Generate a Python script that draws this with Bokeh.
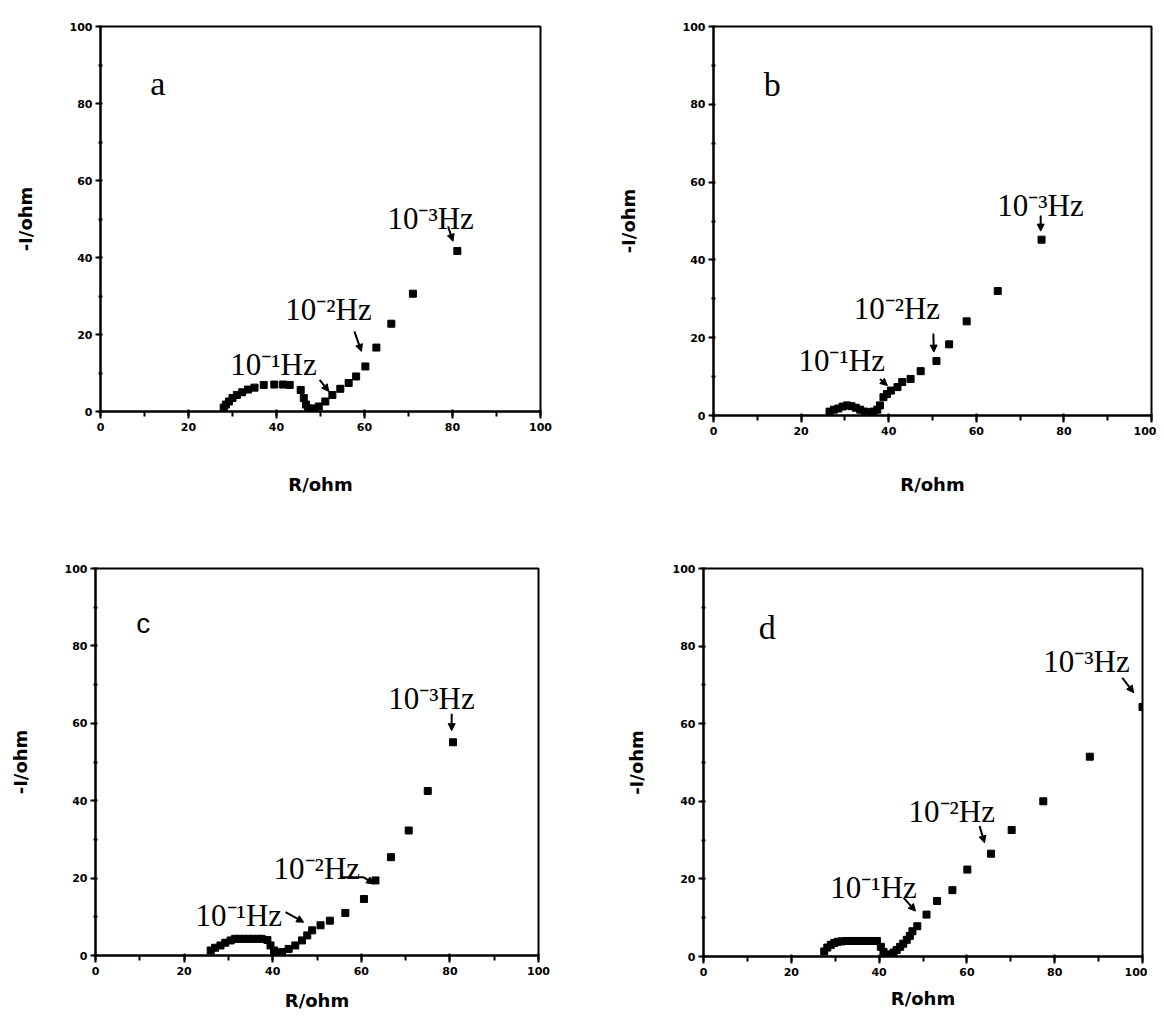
from bokeh.plotting import figure
from bokeh.layouts import column, row
from bokeh.models import Range1d, SingleIntervalTicker, Arrow, NormalHead
from bokeh.core.properties import value
from bokeh.embed import file_html
from bokeh.resources import INLINE

# ---------------- data ----------------
R_a = [28.0, 28.5, 29.2, 30.0, 31.0, 32.2, 33.5, 35.0, 37.1, 39.5, 41.5, 43.0, 45.5,
       46.2, 46.7, 47.2, 47.8, 48.5, 49.6, 51.1, 52.7, 54.5, 56.4, 58.1, 60.2, 62.7,
       66.1, 71.0, 81.1]
I_a = [1.0, 1.8, 2.6, 3.5, 4.3, 5.0, 5.7, 6.2, 6.9, 7.0, 7.0, 6.9, 5.6,
       3.5, 1.8, 0.8, 0.5, 0.8, 1.3, 2.6, 4.3, 5.9, 7.4, 9.1, 11.7, 16.6,
       22.8, 30.6, 41.7]

R_b = [26.5, 27.5, 28.5, 29.5, 30.5, 31.5, 32.5, 33.5, 34.5, 35.5, 36.5, 37.4, 38.0,
       38.8, 39.6, 40.5, 42.0, 43.1, 45.0, 47.3, 50.9, 53.8, 57.8, 64.9, 74.9]
I_b = [1.0, 1.5, 1.8, 2.3, 2.6, 2.4, 2.0, 1.5, 1.0, 0.8, 1.0, 1.5, 2.6,
       4.7, 5.5, 6.4, 7.3, 8.6, 9.4, 11.4, 14.0, 18.3, 24.2, 32.0, 45.2]

R_c = [26.0, 27.0, 28.2, 29.3, 30.5, 31.5, 32.5, 33.5, 34.5, 35.5, 36.5, 37.5, 38.8,
       39.5, 40.3, 40.8, 41.3, 42.1, 43.6, 45.1, 46.6, 47.8, 48.9, 50.8, 52.9, 56.4,
       60.6, 63.2, 66.7, 70.7, 75.0, 80.7]
I_c = [1.3, 2.0, 2.6, 3.3, 3.9, 4.3, 4.3, 4.3, 4.3, 4.3, 4.3, 4.3, 4.0,
       2.6, 1.3, 0.5, 0.3, 0.9, 1.7, 2.6, 3.9, 5.2, 6.5, 7.8, 9.0, 11.0,
       14.6, 19.4, 25.4, 32.3, 42.5, 55.1]

R_d = [27.5, 28.2, 29.0, 29.8, 30.6, 31.5, 32.5, 33.5, 34.5, 35.5, 36.5, 37.5, 38.5,
       39.5, 40.4, 41.0, 41.7, 42.5, 43.3, 44.0, 44.8, 45.5, 46.3, 47.0, 47.6, 48.7,
       50.8, 53.2, 56.7, 60.1, 65.5, 70.2, 77.4, 88.0, 100.0]
I_d = [1.3, 2.3, 3.0, 3.5, 3.8, 3.9, 4.0, 4.0, 4.0, 4.0, 4.0, 4.0, 4.0,
       4.0, 2.5, 1.2, 0.5, 0.5, 1.0, 1.7, 2.5, 3.3, 4.3, 5.3, 6.5, 7.8,
       10.8, 14.3, 17.1, 22.4, 26.5, 32.6, 40.0, 51.5, 64.3]

FREQ_LABELS = ["10\u207b\u00b3Hz", "10\u207b\u00b2Hz", "10\u207b\u00b9Hz"]
X_LABEL = "R/ohm"
Y_LABEL = "-I/ohm"

# annotation placement (data coords) : letter, label anchors, arrow paths
NOTES = {
    "a": dict(letter=(13.0, 85.2), labels=[(65.2, 50.2), (42.0, 26.4), (29.5, 12.1)],
              arrows=[[(79.0, 48.1), (80.1, 44.2)], [(57.7, 20.8), (59.3, 15.6)],
                      [(49.8, 8.2), (51.9, 5.2)]]),
    "b": dict(letter=(13.4, 85.0), labels=[(64.8, 54.0), (32.0, 27.5), (19.4, 14.1)],
              arrows=[[(74.7, 51.4), (74.7, 47.4)], [(50.2, 21.1), (50.3, 16.3)],
                      [(38.0, 9.4), (39.7, 7.7)]]),
    "c": dict(letter=(10.8, 85.8), labels=[(66.1, 66.3), (40.2, 22.4), (22.6, 10.3)],
              arrows=[[(80.4, 62.5), (80.4, 58.1)],
                      [(55.7, 20.2), (60.6, 20.2), (62.8, 18.5)],
                      [(42.9, 11.2), (47.0, 8.6)]]),
    "d": dict(letter=(14.5, 84.7), labels=[(77.4, 76.1), (46.7, 37.4), (28.9, 17.8)],
              arrows=[[(95.4, 71.8), (98.0, 68.0)], [(62.9, 33.6), (64.0, 29.3)],
                      [(45.6, 15.1), (48.3, 11.7)]]),
}


def panel(R, I, key, fw, fh, bl, br, bt, bb, ylab_sd, xlab_sd, letter_font, letter_size):
    p = figure(frame_width=fw, frame_height=fh,
               x_range=Range1d(0, 100), y_range=Range1d(0, 100),
               output_backend="svg", toolbar_location=None,
               min_border_left=bl, min_border_right=br,
               min_border_top=bt, min_border_bottom=bb)
    p.xgrid.visible = False
    p.ygrid.visible = False
    p.outline_line_color = "black"
    p.outline_line_width = 2
    p.outline_line_alpha = 1
    p.background_fill_color = "white"
    p.border_fill_color = "white"
    p.xaxis.axis_label = X_LABEL
    p.yaxis.axis_label = Y_LABEL
    for ax in (p.xaxis[0], p.yaxis[0]):
        ax.ticker = SingleIntervalTicker(interval=20, num_minor_ticks=2)
        ax.axis_line_width = 2
        ax.axis_line_color = "black"
        ax.major_tick_line_width = 2
        ax.major_tick_line_color = "black"
        ax.minor_tick_line_width = 2
        ax.minor_tick_line_color = "black"
        ax.major_label_text_font = "DejaVu Sans"
        ax.major_label_text_font_style = "bold"
        ax.major_label_text_font_size = "11px"
        ax.major_label_text_color = "black"
        ax.axis_label_text_font = "DejaVu Sans"
        ax.axis_label_text_font_style = "bold"
        ax.axis_label_text_font_size = "18px"
        ax.axis_label_text_color = "black"
    p.xaxis.major_tick_out = 7
    p.xaxis.major_tick_in = 2
    p.xaxis.minor_tick_out = 5
    p.xaxis.minor_tick_in = 0
    p.xaxis.major_label_standoff = 4
    p.xaxis.axis_label_standoff = xlab_sd
    p.yaxis.major_tick_out = 5
    p.yaxis.major_tick_in = 0
    p.yaxis.minor_tick_out = 2
    p.yaxis.minor_tick_in = 2
    p.yaxis.major_label_standoff = 3
    p.yaxis.axis_label_standoff = ylab_sd

    p.scatter(R, I, marker="square", size=7, color="black")

    n = NOTES[key]
    p.text(x=[n["letter"][0]], y=[n["letter"][1]], text=[key],
           text_font=value(letter_font), text_font_size=letter_size,
           text_align="center", text_baseline="middle", text_color="black")
    p.text(x=[q[0] for q in n["labels"]], y=[q[1] for q in n["labels"]],
           text=FREQ_LABELS, text_font=value("Liberation Serif"),
           text_font_size="31px", text_align="left", text_baseline="alphabetic",
           text_color="black")
    for pts in n["arrows"]:
        if len(pts) > 2:
            p.line([q[0] for q in pts[:-1]], [q[1] for q in pts[:-1]],
                   line_width=2, color="black")
        (x0, y0), (x1, y1) = pts[-2], pts[-1]
        p.add_layout(Arrow(end=NormalHead(size=7, fill_color="black", line_color="black"),
                           x_start=x0, y_start=y0, x_end=x1, y_end=y1,
                           line_width=2, line_color="black"))
    return p


fa = panel(R_a, I_a, "a", 440, 385, 100, 60, 25, 110, 31, 40, "Liberation Serif", "34px")
fb = panel(R_b, I_b, "b", 438, 389, 113, 5, 26, 105, 41, 36, "Liberation Serif", "34px")
fc = panel(R_c, I_c, "c", 443, 387, 95, 62, 48, 50, 31, 12, "Liberation Sans", "28px")
fd = panel(R_d, I_d, "d", 439, 388, 103, 5, 44, 50, 23, 9, "Liberation Serif", "34px")

layout = column(row(fa, fb), row(fc, fd))

html = file_html(layout, INLINE, title="Impedance spectra")
open("out.html", "w").write(html)
